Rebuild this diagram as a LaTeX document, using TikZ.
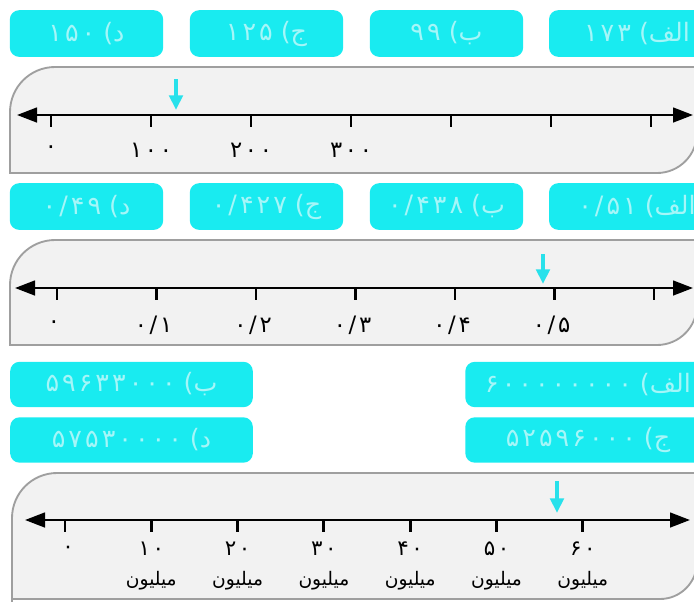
\documentclass[tikz,border=0pt]{standalone}
\usepackage{fontspec}
\newfontfamily\fa[Script=Arabic]{DejaVu Sans}
\TeXXeTstate=1
\usetikzlibrary{arrows.meta}
\definecolor{optfill}{RGB}{25,235,240}
\definecolor{opttext}{RGB}{165,246,248}
\definecolor{framefill}{RGB}{242,242,242}
\definecolor{pointcol}{RGB}{40,225,235}
\newcommand\rl[1]{\beginR#1\endR}
\newcommand\num[1]{\beginL{\addfontfeature{LetterSpace=12}#1}\endL}

\begin{document}
\begin{tikzpicture}[x=0.75pt,y=-0.75pt,>={Triangle[length=15pt,width=11pt]},
 opt/.style={fill=optfill,rounded corners=7pt,minimum height=35pt,minimum width=115pt,inner sep=0pt,text=opttext,font=\fa\fontsize{19}{22}\selectfont},
 frame/.style={draw=gray!75,fill=framefill,line width=1.4pt},
 axis/.style={line width=1.9pt,<->},
 tick/.style={line width=2.2pt},
 lab/.style={font=\fa\fontsize{17}{20}\selectfont,inner sep=1pt},
 mlab/.style={font=\fa\fontsize{14}{23}\selectfont,inner sep=1pt,align=center},
 pointer/.style={draw=pointcol,line width=2.8pt,-{Triangle[length=11pt,width=10pt]}}]
\useasboundingbox (0,0) rectangle (694,601);

% first row: 0 ... 300
\node[opt] (o1d) at (86.5,33.5) {\rl{د) \num{۱۵۰}}};
\node[opt] (o1j) at (266.5,33.5) {\rl{ج) \num{۱۲۵}}};
\node[opt] (o1b) at (446.5,33.5) {\rl{ب) \num{۹۹}}};
\node[opt,minimum width=132pt] (o1a) at (637,33.5) {\rl{الف) \num{۱۷۳}}};
\draw[frame] (10,173) -- (10,112) arc[start angle=180,end angle=270,radius=45] -- (697,67) -- (697,133) arc[start angle=0,end angle=90,radius=40] -- cycle;
\coordinate (a1w) at (17,115);
\coordinate (a1e) at (693,115);
\draw[axis] (a1w) -- (a1e);
\foreach \i in {0,...,6} \draw[tick] (51+100*\i,115) -- ++(0,12);
\foreach \i/\t in {0/۰,1/۱۰۰,2/۲۰۰,3/۳۰۰} \node[lab] (l1\i) at (51+100*\i,150) {\num{\t}};
\coordinate (p1) at (176,79);
\draw[pointer] (p1) -- ++(0,31);

% second row: 0 ... 0/5
\node[opt] (o2d) at (86.5,206.5) {\rl{د) \num{۰/۴۹}}};
\node[opt] (o2j) at (266.5,206.5) {\rl{ج) \num{۰/۴۲۷}}};
\node[opt] (o2b) at (446.5,206.5) {\rl{ب) \num{۰/۴۳۸}}};
\node[opt,minimum width=132pt] (o2a) at (637,206.5) {\rl{الف) \num{۰/۵۱}}};
\draw[frame] (10,345) -- (10,285) arc[start angle=180,end angle=270,radius=45] -- (697,240) -- (697,305) arc[start angle=0,end angle=90,radius=40] -- cycle;
\coordinate (a2w) at (15,288);
\coordinate (a2e) at (693,288);
\draw[axis] (a2w) -- (a2e);
\foreach \i in {0,...,6} \draw[tick] (57+99.5*\i,288) -- ++(0,12);
\foreach \i/\t in {0/{۰},1/{۰/۱},2/{۰/۲},3/{۰/۳},4/{۰/۴},5/{۰/۵}} \node[lab] (l2\i) at (54+99.5*\i,325) {\num{\t}};
\coordinate (p2) at (543,254);
\draw[pointer] (p2) -- ++(0,30);

% third row: millions
\node[opt,minimum width=182pt,minimum height=34pt] (o3b) at (131.5,384.5) {\rl{ب) \num{۵۹۶۳۳۰۰۰}}};
\node[opt,minimum width=182pt,minimum height=34pt] (o3d) at (131.5,440) {\rl{د) \num{۵۷۵۳۰۰۰۰}}};
\node[opt,minimum width=184pt,minimum height=34pt] (o3a) at (588,384.5) {\rl{الف) \num{۶۰۰۰۰۰۰۰۰}}};
\node[opt,minimum width=184pt,minimum height=34pt] (o3j) at (588,440) {\rl{ج) \num{۵۲۵۹۶۰۰۰}}};
\draw[frame] (12,602) -- (12,518) arc[start angle=180,end angle=270,radius=45] -- (697,473) -- (697,562) arc[start angle=0,end angle=90,radius=37] -- (12,599);
\coordinate (a3w) at (25,520);
\coordinate (a3e) at (690,520);
\draw[axis] (a3w) -- (a3e);
\foreach \i in {0,...,6} \draw[tick] (65+86.3*\i,520) -- ++(0,12);
\node[mlab] (l30) at (68,550) {{\fontsize{16}{18}\selectfont ۰}};
\foreach \i/\t in {1/۱۰,2/۲۰,3/۳۰,4/۴۰,5/۵۰,6/۶۰} \node[mlab] (l3\i) at (65+86.3*\i,566) {{\fontsize{16}{18}\selectfont\num{\t}}\\\rl{میلیون}};
\coordinate (p3) at (557,481);
\draw[pointer] (p3) -- ++(0,32);
\end{tikzpicture}
\end{document}
